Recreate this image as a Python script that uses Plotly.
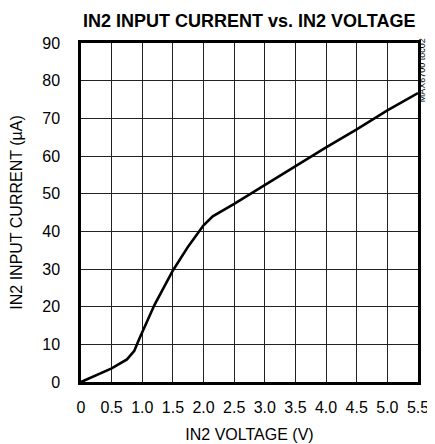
import plotly.graph_objects as go

# Data
voltage = [0, 0.25, 0.5, 0.75, 0.87, 0.95, 1.0, 1.2, 1.5, 1.75, 2.0, 2.15, 2.5, 3.0, 3.5, 4.0, 4.5, 5.0, 5.5]
current = [0, 1.9, 3.6, 6.0, 8.3, 11.4, 13.3, 20.5, 29.6, 36.0, 41.6, 44.0, 47.3, 52.3, 57.4, 62.3, 67.1, 72.1, 76.7]

x_tickvals = [0, 0.5, 1.0, 1.5, 2.0, 2.5, 3.0, 3.5, 4.0, 4.5, 5.0, 5.5]
x_ticktext = ["0", "0.5", "1.0", "1.5", "2.0", "2.5", "3.0", "3.5", "4.0", "4.5", "5.0", "5.5"]
y_tickvals = [0, 10, 20, 30, 40, 50, 60, 70, 80, 90]

FONT = "Liberation Sans, Arial, sans-serif"

fig = go.Figure()
fig.add_trace(go.Scatter(
    x=voltage, y=current, mode="lines",
    line=dict(color="black", width=2.6),
    showlegend=False, hoverinfo="skip",
))

# The page body adds an 8px margin, so the figure is sized to fit the window
fig.update_layout(
    width=427, height=436,
    margin=dict(l=73, r=17, t=35, b=62, autoexpand=False),
    paper_bgcolor="white", plot_bgcolor="white",
    font=dict(family=FONT, color="black", size=16),
    title=dict(text="<b>IN2 INPUT CURRENT vs. IN2 VOLTAGE</b>",
               xref="container", yref="container",
               x=0.565, xanchor="center", y=0.972, yanchor="middle",
               font=dict(family=FONT, size=18, color="black")),
)

fig.update_xaxes(
    range=[0, 5.5], tickvals=x_tickvals, ticktext=x_ticktext,
    showgrid=True, gridcolor="#222", gridwidth=1,
    showline=True, linecolor="black", linewidth=2.5, mirror=True,
    ticks="", zeroline=False, ticklabelstandoff=9, automargin=False,
    title=dict(text="IN2 VOLTAGE (V)", font=dict(size=16), standoff=14),
    tickfont=dict(size=16),
)
fig.update_yaxes(
    range=[0, 90], tickvals=y_tickvals,
    showgrid=True, gridcolor="#222", gridwidth=1,
    showline=True, linecolor="black", linewidth=2.5, mirror=True,
    ticks="", zeroline=False, ticklabelstandoff=15, automargin=False,
    title=dict(text="IN2 INPUT CURRENT (µA)", font=dict(size=16), standoff=22),
    tickfont=dict(size=16),
)

fig.add_annotation(
    text="MAX6700 toc02", xref="paper", yref="paper",
    x=1.012, y=0.92, xanchor="center", yanchor="middle",
    textangle=-90, showarrow=False,
    font=dict(family=FONT, size=9, color="black"),
)

fig.write_html("out.html")
